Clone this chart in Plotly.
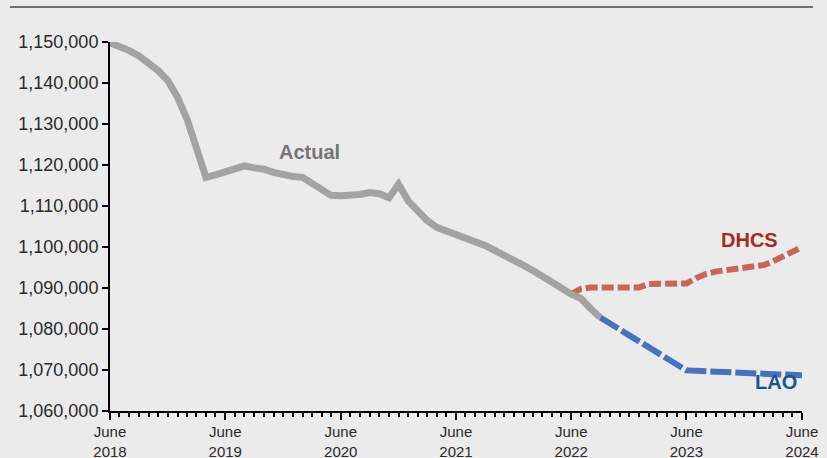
import pandas as pd
import plotly.graph_objects as go

# ---- data ----
actual_start = "2018-06-01"
actual_values = [
    1149800, 1149000, 1147900, 1146600, 1145000, 1143000, 1140600, 1136500,
    1131000, 1124500, 1117000, 1117600, 1118400, 1119400, 1119800, 1119300,
    1119000, 1118200, 1117500, 1117200, 1117000, 1115500, 1114000, 1112600,
    1112500, 1112600, 1112800, 1113300, 1113000, 1112000, 1115300, 1111200,
    1108500, 1106500, 1104800, 1104000, 1103000, 1102400, 1101500, 1100400,
    1099200, 1097800, 1096600, 1095500, 1094200, 1093000, 1091400, 1090000,
    1088500, 1087500, 1085000, 1082800,
]
dhcs_start = "2022-06-01"
dhcs_values = [
    1088500, 1089800, 1090100, 1090100, 1090100, 1090100, 1090100, 1090100,
    1091000, 1091100, 1091100, 1091100, 1091100, 1092400, 1093400, 1094000,
    1094300, 1094700, 1095200, 1095300, 1095600, 1096500, 1097700, 1098800,
    1100000,
]
lao_start = "2022-09-01"
lao_values = [
    1082800, 1081400, 1080000, 1078500, 1077000, 1075500, 1074100, 1072700,
    1071300, 1069900, 1069800, 1069700, 1069600, 1069500, 1069400, 1069300,
    1069200, 1069100, 1069000, 1068900, 1068800, 1068700,
]
tick_vals = ["2018-06-01", "2019-06-01", "2020-06-01", "2021-06-01",
             "2022-06-01", "2023-06-01", "2024-06-01"]
tick_text = ["June<br>2018", "June<br>2019", "June<br>2020", "June<br>2021",
             "June<br>2022", "June<br>2023", "June<br>2024"]
y_ticks = [1060000, 1070000, 1080000, 1090000, 1100000, 1110000,
           1120000, 1130000, 1140000, 1150000]

actual_dates = pd.date_range(actual_start, periods=len(actual_values), freq="MS")
dhcs_dates = pd.date_range(dhcs_start, periods=len(dhcs_values), freq="MS")
lao_dates = pd.date_range(lao_start, periods=len(lao_values), freq="MS")

BG = "#ebebeb"
FONT = "Liberation Sans, Arial, sans-serif"

fig = go.Figure()
fig.add_trace(go.Scatter(x=dhcs_dates, y=dhcs_values, mode="lines",
                         line=dict(color="#c9665a", width=6, dash="12px,4px"),
                         cliponaxis=False, showlegend=False))
fig.add_trace(go.Scatter(x=lao_dates, y=lao_values, mode="lines",
                         line=dict(color="#4872be", width=6, dash="21px,4px"),
                         cliponaxis=False, showlegend=False))
fig.add_trace(go.Scatter(x=actual_dates, y=actual_values, mode="lines",
                         line=dict(color="#a3a3a3", width=7),
                         cliponaxis=False, showlegend=False))

fig.add_annotation(x="2020-02-23", y=1123100, text="<b>Actual</b>", showarrow=False,
                   font=dict(family=FONT, size=20, color="#757575"))
fig.add_annotation(x="2023-12-18", y=1101600, text="<b>DHCS</b>", showarrow=False,
                   font=dict(family=FONT, size=20, color="#a52a26"))
fig.add_annotation(x="2024-03-12", y=1067100, text="<b>LAO</b>", showarrow=False,
                   font=dict(family=FONT, size=20, color="#1b5394"))

fig.add_shape(type="line", xref="paper", yref="paper",
              x0=-0.1447, x1=1.016, y0=1.095, y1=1.095,
              line=dict(color="#707070", width=2))

fig.update_xaxes(
    range=["2018-06-01", "2024-06-01"],
    tickvals=tick_vals, ticktext=tick_text,
    ticks="outside", ticklen=7, tickwidth=2, tickcolor="black",
    showline=True, linecolor="black", linewidth=2,
    showgrid=False, zeroline=False, automargin=False,
    ticklabelstandoff=-1,
    tickfont=dict(family=FONT, size=15, color="#2a2a2a"),
    minor=dict(dtick="M1", tick0="2018-06-01", ticks="outside", ticklen=4,
               tickwidth=1.5, tickcolor="black", showgrid=False),
)
fig.update_yaxes(
    range=[1060000, 1150000],
    tickvals=y_ticks, tickformat=",d",
    ticks="outside", ticklen=6, tickwidth=2, tickcolor="black",
    showline=True, linecolor="black", linewidth=2,
    showgrid=False, zeroline=False, automargin=False,
    tickfont=dict(family=FONT, size=18, color="#2a2a2a"),
)
fig.update_layout(
    width=827, height=458,
    margin=dict(l=110, r=25, t=42, b=47),
    paper_bgcolor=BG, plot_bgcolor=BG,
    showlegend=False,
)
fig.write_html("out.html")
